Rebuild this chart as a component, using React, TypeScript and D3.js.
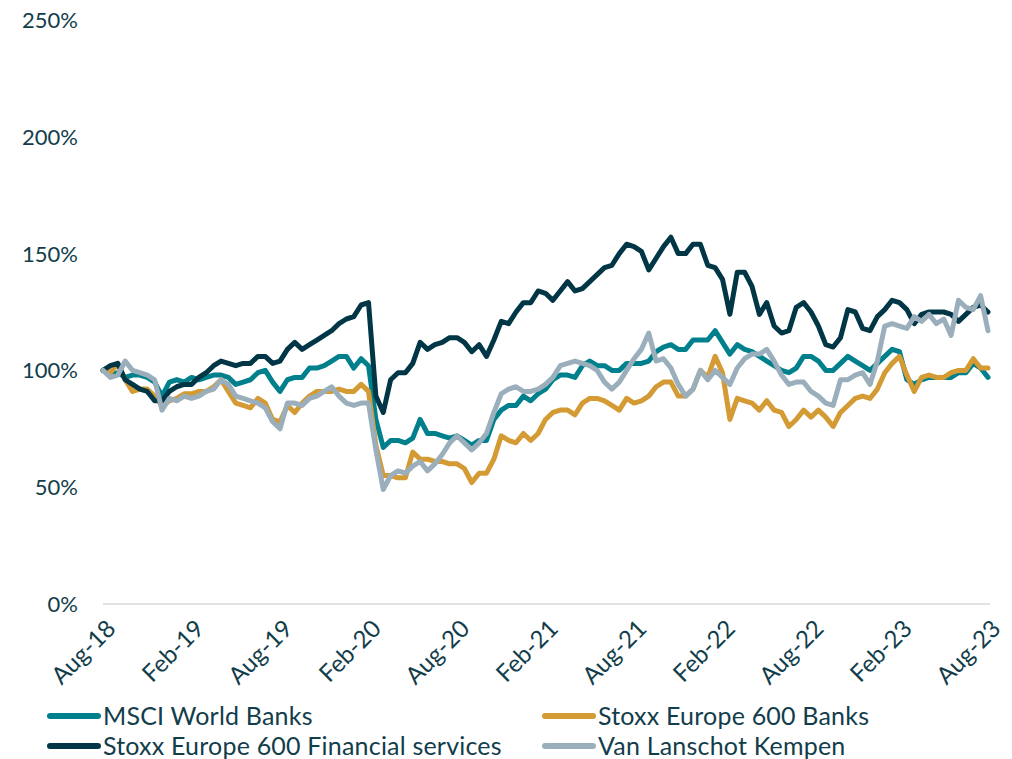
import * as d3 from "d3";

// semi-monthly observations, Aug-18 .. Aug-23 (index 0..120), % of start value
const msciWorldBanks = [
  100, 98, 99, 97, 98, 98, 97, 95, 89, 95, 96, 95,
  97, 96, 97, 98, 98, 97, 94, 95, 96, 99, 100, 95,
  91, 96, 97, 97, 101, 101, 102, 104, 106, 106, 101, 105,
  102, 79, 67, 70, 70, 69, 71, 79, 73, 73, 72, 71,
  72, 70, 68, 70, 70, 79, 83, 85, 85, 89, 87, 90,
  92, 96, 98, 98, 97, 102, 104, 102, 102, 100, 100, 103,
  103, 103, 104, 108, 110, 111, 109, 109, 113, 113, 113, 117,
  112, 107, 111, 109, 108, 106, 104, 102, 100, 99, 101, 106,
  106, 104, 100, 100, 103, 106, 104, 102, 100, 103, 106, 109,
  108, 96, 94, 96, 97, 97, 97, 97, 99, 99, 103, 101,
  97,
];
const stoxxBanks = [
  100, 99, 103, 96, 91, 92, 92, 89, 85, 87, 88, 90,
  90, 91, 91, 93, 96, 91, 86, 85, 84, 88, 86, 79,
  78, 85, 82, 86, 89, 91, 91, 91, 92, 91, 91, 94,
  91, 68, 55, 55, 54, 54, 65, 62, 62, 61, 61, 60,
  60, 58, 52, 56, 56, 62, 72, 70, 69, 73, 70, 73,
  79, 82, 83, 83, 81, 86, 88, 88, 87, 85, 83, 88,
  86, 87, 89, 93, 95, 95, 89, 89, 92, 100, 97, 106,
  99, 79, 88, 87, 86, 83, 87, 83, 82, 76, 79, 83,
  80, 83, 80, 76, 82, 85, 88, 89, 88, 92, 99, 103,
  106, 98, 91, 97, 98, 97, 97, 99, 100, 100, 105, 101,
  101,
];
const stoxxFinServices = [
  100, 102, 103, 96, 94, 92, 91, 87, 87, 91, 93, 94,
  94, 97, 99, 102, 104, 103, 102, 103, 103, 106, 106, 103,
  104, 109, 112, 109, 111, 113, 115, 117, 120, 122, 123, 128,
  129, 89, 82, 96, 99, 99, 103, 112, 109, 111, 112, 114,
  114, 112, 108, 111, 106, 113, 121, 120, 125, 129, 129, 134,
  133, 130, 134, 138, 134, 135, 138, 141, 144, 145, 150, 154,
  153, 151, 143, 148, 153, 157, 150, 150, 154, 154, 145, 144,
  139, 124, 142, 142, 136, 124, 129, 119, 116, 117, 127, 129,
  125, 119, 111, 110, 114, 126, 125, 118, 117, 123, 126, 130,
  129, 126, 120, 124, 125, 125, 125, 124, 121, 124, 127, 128,
  125,
];
const vanLanschotKempen = [
  100, 97, 98, 104, 100, 99, 98, 96, 83, 88, 87, 89,
  88, 89, 91, 92, 96, 94, 89, 88, 87, 86, 84, 78,
  75, 86, 86, 85, 88, 89, 91, 93, 89, 86, 85, 86,
  86, 66, 49, 55, 57, 56, 59, 61, 57, 60, 64, 69,
  72, 69, 66, 69, 73, 82, 90, 92, 93, 91, 91, 92,
  94, 97, 102, 103, 104, 103, 102, 100, 95, 92, 95, 100,
  105, 109, 116, 104, 105, 101, 94, 89, 92, 100, 96, 100,
  97, 94, 101, 105, 107, 107, 109, 104, 98, 94, 95, 95,
  91, 89, 86, 85, 96, 96, 98, 99, 94, 104, 119, 120,
  119, 118, 123, 121, 124, 120, 122, 115, 130, 127, 126, 132,
  117,
];

const tickLabels = [
  "Aug-18", "Feb-19", "Aug-19", "Feb-20", "Aug-20", "Feb-21",
  "Aug-21", "Feb-22", "Aug-22", "Feb-23", "Aug-23",
];
const yTicks = [0, 50, 100, 150, 200, 250];

const series = [
  { name: "MSCI World Banks", color: "#00808d", values: msciWorldBanks },
  { name: "Stoxx Europe 600 Banks", color: "#d49a33", values: stoxxBanks },
  { name: "Stoxx Europe 600 Financial services", color: "#003646", values: stoxxFinServices },
  { name: "Van Lanschot Kempen", color: "#9aafbb", values: vanLanschotKempen },
];

const W = 1012;
const H = 759;
const textColor = "#123d4b";
const font = "Lato, 'Open Sans', sans-serif";

export default function App() {
  const x = d3.scaleLinear().domain([0, 120]).range([103, 988]);
  const y = d3.scaleLinear().domain([0, 250]).range([604, 20]);
  const line = d3
    .line<number>()
    .x((_, i) => x(i))
    .y((d) => y(d));

  const legendPos = [
    { lx: 47, ly: 716 },
    { lx: 542, ly: 716 },
    { lx: 47, ly: 746 },
    { lx: 542, ly: 746 },
  ];

  return (
    <svg
      width={W}
      height={H}
      style={{ position: "absolute", left: 0, top: 0, background: "#fff" }}
      fontFamily={font}
    >
      <line x1={103} x2={990} y1={y(0)} y2={y(0)} stroke="#d9d9d9" strokeWidth={1.5} />

      {yTicks.map((t) => (
        <text
          key={t}
          x={78}
          y={y(t)}
          dy="0.36em"
          textAnchor="end"
          fontSize={22}
          fill={textColor}
        >
          {t}%
        </text>
      ))}

      {tickLabels.map((lab, i) => (
        <text
          key={lab}
          transform={`translate(${x(i * 12) + 8},${y(0) + 20}) rotate(-45)`}
          textAnchor="end"
          dy="0.36em"
          fontSize={24}
          fill={textColor}
        >
          {lab}
        </text>
      ))}

      {series.map((s) => (
        <path
          key={s.name}
          d={line(s.values) || ""}
          fill="none"
          stroke={s.color}
          strokeWidth={5}
          strokeLinejoin="round"
          strokeLinecap="round"
        />
      ))}

      {series.map((s, i) => (
        <g key={s.name}>
          <line
            x1={legendPos[i].lx + 3}
            x2={legendPos[i].lx + 51}
            y1={legendPos[i].ly}
            y2={legendPos[i].ly}
            stroke={s.color}
            strokeWidth={6}
            strokeLinecap="round"
          />
          <text
            x={legendPos[i].lx + 56}
            y={legendPos[i].ly}
            dy="0.36em"
            fontSize={25}
            letterSpacing={0.2}
            fill={textColor}
          >
            {s.name}
          </text>
        </g>
      ))}
    </svg>
  );
}
